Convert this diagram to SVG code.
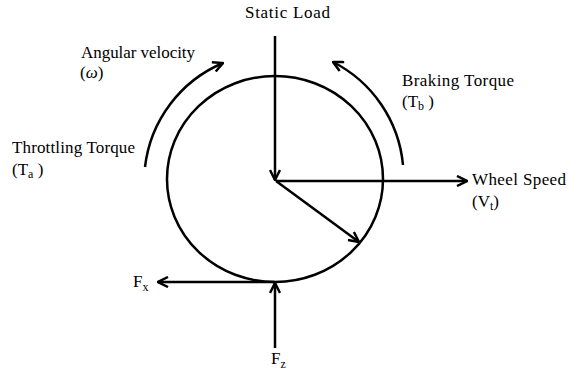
<svg xmlns="http://www.w3.org/2000/svg" width="568" height="375" viewBox="0 0 568 375">
<defs>
<style>
.ln{fill:none;stroke:#000;stroke-width:2.5}
.t{font-family:"Liberation Serif","Times New Roman",serif;font-size:17px;fill:#000}
.s{font-size:12px}
</style>
<marker id="ah" viewBox="0 0 12 12" refX="11" refY="6" markerWidth="12" markerHeight="12" markerUnits="userSpaceOnUse" orient="auto">
<path d="M1,1 L11,6 L1,11" fill="none" stroke="#000" stroke-width="2.5"/>
</marker>
</defs>
<rect width="568" height="375" fill="#fff"/>
<g id="wheel"><ellipse class="ln" cx="275" cy="179" rx="108" ry="103"/></g>
<g id="connectors">
<path class="ln" d="M275,36 L275,180" marker-end="url(#ah)"/>
<path class="ln" d="M276,181 L467,181" marker-end="url(#ah)"/>
<path class="ln" d="M276,181 L359,242" marker-end="url(#ah)"/>
<path class="ln" d="M275,282 L158,282" marker-end="url(#ah)"/>
<path class="ln" d="M275,348 L275,283" marker-end="url(#ah)"/>
<path class="ln" d="M145,167 A129,129 0 0 1 223,63" marker-end="url(#ah)"/>
<path class="ln" d="M403,165 A129,129 0 0 0 333,62" marker-end="url(#ah)"/>
</g>
<g id="static-load"><text class="t" x="245" y="18" textLength="85">Static Load</text></g>
<g id="angular-velocity"><text class="t" x="81" y="58" textLength="114">Angular velocity</text><text class="t" x="80" y="78">(<tspan font-style="italic">ω</tspan>)</text></g>
<g id="throttling"><text class="t" x="12" y="153" textLength="123">Throttling Torque</text><text class="t" x="12" y="175">(T<tspan class="s" dy="3">a</tspan><tspan dy="-3"> )</tspan></text></g>
<g id="braking"><text class="t" x="402" y="86" textLength="112">Braking Torque</text><text class="t" x="402" y="107">(T<tspan class="s" dy="3">b</tspan><tspan dy="-3"> )</tspan></text></g>
<g id="wheel-speed"><text class="t" x="472" y="185" textLength="94">Wheel Speed</text><text class="t" x="472" y="207">(V<tspan class="s" dy="3">t</tspan><tspan dy="-3">)</tspan></text></g>
<g id="fx"><text class="t" x="133" y="287">F<tspan class="s" dy="4">x</tspan></text></g>
<g id="fz"><text class="t" x="271" y="364">F<tspan class="s" dy="4">z</tspan></text></g>
</svg>
